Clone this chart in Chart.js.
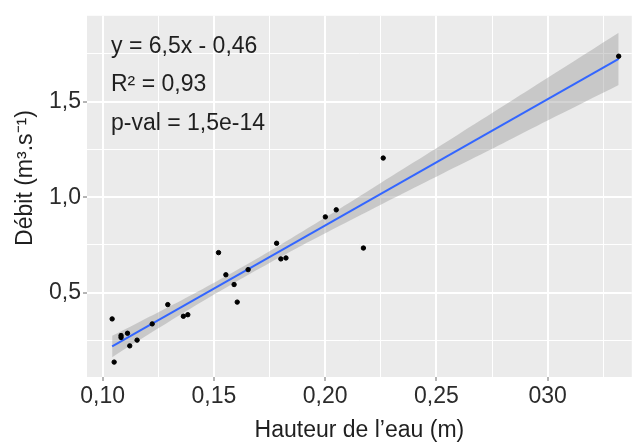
<!DOCTYPE html>
<html>
<head>
<meta charset="utf-8">
<script src="https://cdn.jsdelivr.net/npm/chart.js@4"></script>
<style>
  body { margin: 0; background: #fff; }
  #wrap { width: 635px; height: 445px; }
</style>
</head>
<body>
<div id="wrap"><canvas id="myScatterChart"></canvas></div>
<script>
// Measurements (water height in m, discharge in m3/s)
const hauteur = [0.1043, 0.1052, 0.1083, 0.1083, 0.1112, 0.1122, 0.1155, 0.1223, 0.1293, 0.1363, 0.1383, 0.1521,
                 0.1554, 0.1591, 0.1605, 0.1654, 0.1782, 0.1801, 0.1824, 0.2001, 0.2050, 0.2172, 0.2261, 0.3319];
const debit = [0.363, 0.137, 0.276, 0.266, 0.288, 0.222, 0.252, 0.337, 0.438, 0.377, 0.385, 0.710,
               0.594, 0.543, 0.451, 0.621, 0.759, 0.677, 0.682, 0.897, 0.934, 0.734, 1.205, 1.738];

// Fitted line and its confidence band
const fitX = [0.1043, 0.3319];
const fitY = [0.219, 1.724];
const bandX = [0.1043, 0.115, 0.13, 0.145, 0.16, 0.175, 0.19, 0.205, 0.22, 0.24, 0.26, 0.28, 0.30, 0.3319];
const bandUpper = [0.275, 0.338, 0.428, 0.520, 0.616, 0.717, 0.822, 0.929, 1.038, 1.184, 1.330, 1.477, 1.625, 1.861];
const bandLower = [0.163, 0.242, 0.350, 0.456, 0.558, 0.656, 0.750, 0.841, 0.930, 1.049, 1.166, 1.283, 1.401, 1.587];

// Axis ticks
const xMajor = [0.10, 0.15, 0.20, 0.25, 0.30];
const xMinor = [0.125, 0.175, 0.225, 0.275, 0.325];
const xTickLabels = ["0,10", "0,15", "0,20", "0,25", "030"];
const yMajor = [0.5, 1.0, 1.5];
const yMinor = [0.25, 0.75, 1.25, 1.75];
const yTickLabels = ["0,5", "1,0", "1,5"];

const annotations = ["y = 6,5x - 0,46", "R\u00B2 = 0,93", "p-val = 1,5e-14"];

const FONT = "'Liberation Sans', Arial, sans-serif";

function majorIndex(list, v) {
    return list.findIndex(m => Math.abs(m - v) < 1e-9);
}

const toPoints = (xs, ys) => xs.map((x, i) => ({ x: x, y: ys[i] }));

// grey panel behind the plot, ggplot style
const panelBg = {
    id: 'panelBg',
    beforeDraw(chart) {
        const { ctx, chartArea: a } = chart;
        ctx.save();
        ctx.fillStyle = '#EBEBEB';
        ctx.fillRect(a.left, a.top, a.right - a.left, a.bottom - a.top);
        ctx.restore();
    }
};

// equation text in the top left corner + y axis title
const textLayer = {
    id: 'textLayer',
    afterDraw(chart) {
        const { ctx, chartArea: a } = chart;
        ctx.save();
        ctx.fillStyle = '#1f1f1f';
        ctx.font = "23px " + FONT;
        ctx.textAlign = 'left';
        ctx.textBaseline = 'alphabetic';
        annotations.forEach((t, i) => {
            ctx.fillText(t, a.left + 24, a.top + 37 + i * 38.5);
        });
        ctx.translate(26, 178);
        ctx.rotate(-Math.PI / 2);
        ctx.textAlign = 'center';
        ctx.textBaseline = 'middle';
        ctx.fillText("D\u00E9bit (m\u00B3.s\u207B\u00B9)", 0, 0);
        ctx.restore();
    }
};

const ctx = document.getElementById("myScatterChart").getContext("2d");

new Chart(ctx, {
    type: "scatter",
    data: {
        datasets: [
            {
                label: "Mesures",
                data: toPoints(hauteur, debit),
                backgroundColor: "#000",
                borderColor: "#000",
                pointRadius: 2.2,
                pointHoverRadius: 2.2,
                order: 0
            },
            {
                type: "line",
                label: "Régression",
                data: toPoints(fitX, fitY),
                borderColor: "#3366FF",
                borderWidth: 2,
                pointRadius: 0,
                fill: false,
                order: 1
            },
            {
                type: "line",
                label: "IC haut",
                data: toPoints(bandX, bandUpper),
                borderWidth: 0,
                borderColor: "rgba(0,0,0,0)",
                backgroundColor: "rgba(153,153,153,0.42)",
                pointRadius: 0,
                tension: 0.3,
                fill: "+1",
                order: 2
            },
            {
                type: "line",
                label: "IC bas",
                data: toPoints(bandX, bandLower),
                borderWidth: 0,
                borderColor: "rgba(0,0,0,0)",
                pointRadius: 0,
                tension: 0.3,
                fill: false,
                order: 3
            }
        ]
    },
    options: {
        responsive: true,
        maintainAspectRatio: false,
        animation: false,
        layout: {
            padding: { left: 0, right: 0, top: 13, bottom: 0 }
        },
        scales: {
            x: {
                type: "linear",
                min: 0.093,
                max: 0.3378,
                afterBuildTicks: (scale) => {
                    scale.ticks = [...xMajor, ...xMinor].sort((a, b) => a - b).map(v => ({ value: v }));
                },
                afterFit: (scale) => { scale.height = 68; },
                border: { display: false },
                grid: {
                    color: "#FFFFFF",
                    lineWidth: (c) => (c.tick && majorIndex(xMajor, c.tick.value) >= 0 ? 2 : 1),
                    tickColor: (c) => (c.tick && majorIndex(xMajor, c.tick.value) >= 0 ? "#6a6a6a" : "rgba(0,0,0,0)"),
                    tickLength: 4,
                    tickWidth: 1
                },
                ticks: {
                    autoSkip: false,
                    maxRotation: 0,
                    padding: 2,
                    color: "#2b2b2b",
                    font: { family: FONT, size: 23 },
                    callback: function(value) {
                        const i = majorIndex(xMajor, value);
                        return i >= 0 ? xTickLabels[i] : "";
                    }
                },
                title: {
                    display: true,
                    text: "Hauteur de l\u2019eau (m)",
                    color: "#1f1f1f",
                    font: { family: FONT, size: 23 },
                    padding: { top: 0, bottom: 1 }
                }
            },
            y: {
                type: "linear",
                min: 0.059,
                max: 1.9495,
                afterBuildTicks: (scale) => {
                    scale.ticks = [...yMajor, ...yMinor].sort((a, b) => a - b).map(v => ({ value: v }));
                },
                afterFit: (scale) => { scale.width = 87; },
                border: { display: false },
                grid: {
                    color: "#FFFFFF",
                    lineWidth: (c) => (c.tick && majorIndex(yMajor, c.tick.value) >= 0 ? 2 : 1),
                    tickColor: (c) => (c.tick && majorIndex(yMajor, c.tick.value) >= 0 ? "#6a6a6a" : "rgba(0,0,0,0)"),
                    tickLength: 4,
                    tickWidth: 1
                },
                ticks: {
                    autoSkip: false,
                    padding: 2,
                    color: "#2b2b2b",
                    font: { family: FONT, size: 23 },
                    callback: function(value) {
                        const i = majorIndex(yMajor, value);
                        return i >= 0 ? yTickLabels[i] : "";
                    }
                }
            }
        },
        plugins: {
            legend: { display: false },
            tooltip: { enabled: false }
        }
    },
    plugins: [panelBg, textLayer]
});
</script>
</body>
</html>
